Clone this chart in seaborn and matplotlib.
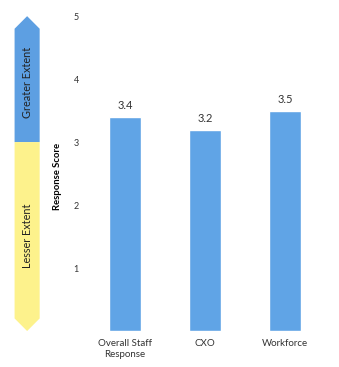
import matplotlib
matplotlib.use("Agg")
import matplotlib.pyplot as plt
from matplotlib.patches import Polygon
import seaborn as sns
import pandas as pd

categories = ["Overall Staff\nResponse", "CXO", "Workforce"]
scores = [3.4, 3.2, 3.5]
score_labels = ["3.4", "3.2", "3.5"]
y_ticks = [1, 2, 3, 4, 5]
band_labels = ["Greater Extent", "Lesser Extent"]

BAR_BLUE = "#60a4e6"
ARROW_BLUE = "#5d9fe2"
ARROW_YELLOW = "#fdf28c"
TEXT = "#333333"

sns.set_style("white")
plt.rcParams["font.family"] = ["Lato", "DejaVu Sans"]

df = pd.DataFrame({"group": categories, "score": scores})

fig = plt.figure(figsize=(3.39, 3.67), dpi=100)
ax = fig.add_axes([0.251, 0.098, 0.708, 0.858])

sns.barplot(data=df, x="group", y="score", color=BAR_BLUE, width=0.4,
            saturation=1, ax=ax)
ax.set_xlim(-0.5, 2.5)
ax.set_ylim(0, 5)
ax.set_yticks(y_ticks)
ax.set_yticklabels([str(t) for t in y_ticks], fontsize=6.5, color=TEXT)
ax.tick_params(axis="y", length=0, pad=4.5)
ax.tick_params(axis="x", length=0, pad=6, labelsize=7, labelcolor=TEXT)
for lbl in ax.get_xticklabels():
    lbl.set_verticalalignment("top")
ax.set_xlabel("")
ax.set_ylabel("Response Score", fontsize=6.8, fontweight="bold", color="black")
ax.yaxis.set_label_coords(-0.098, 0.49)
sns.despine(ax=ax, left=True, bottom=True)

for i, (v, s) in enumerate(zip(scores, score_labels)):
    ax.text(i, v + 0.09, s, ha="center", va="bottom", fontsize=8, color=TEXT)

# Double-headed scale arrow beside the axis, split at a score of 3
arr = fig.add_axes([0.03, 0.098, 0.1, 0.858])
arr.set_xlim(0, 1)
arr.set_ylim(0, 5)
arr.axis("off")
xl, xr, xc = 0.13, 0.87, 0.5
top_poly = Polygon([(xl, 3.0), (xl, 4.8), (xc, 5.0), (xr, 4.8), (xr, 3.0)],
                   closed=True, facecolor=ARROW_BLUE, edgecolor="none")
bot_poly = Polygon([(xl, 3.0), (xl, 0.2), (xc, 0.0), (xr, 0.2), (xr, 3.0)],
                   closed=True, facecolor=ARROW_YELLOW, edgecolor="none")
arr.add_patch(top_poly)
arr.add_patch(bot_poly)
arr.text(xc, 3.95, band_labels[0], rotation=90, ha="center", va="center",
         fontsize=7.8, color="#222222")
arr.text(xc, 1.52, band_labels[1], rotation=90, ha="center", va="center",
         fontsize=7.8, color="#222222")

fig.savefig("out.png", dpi=100)
